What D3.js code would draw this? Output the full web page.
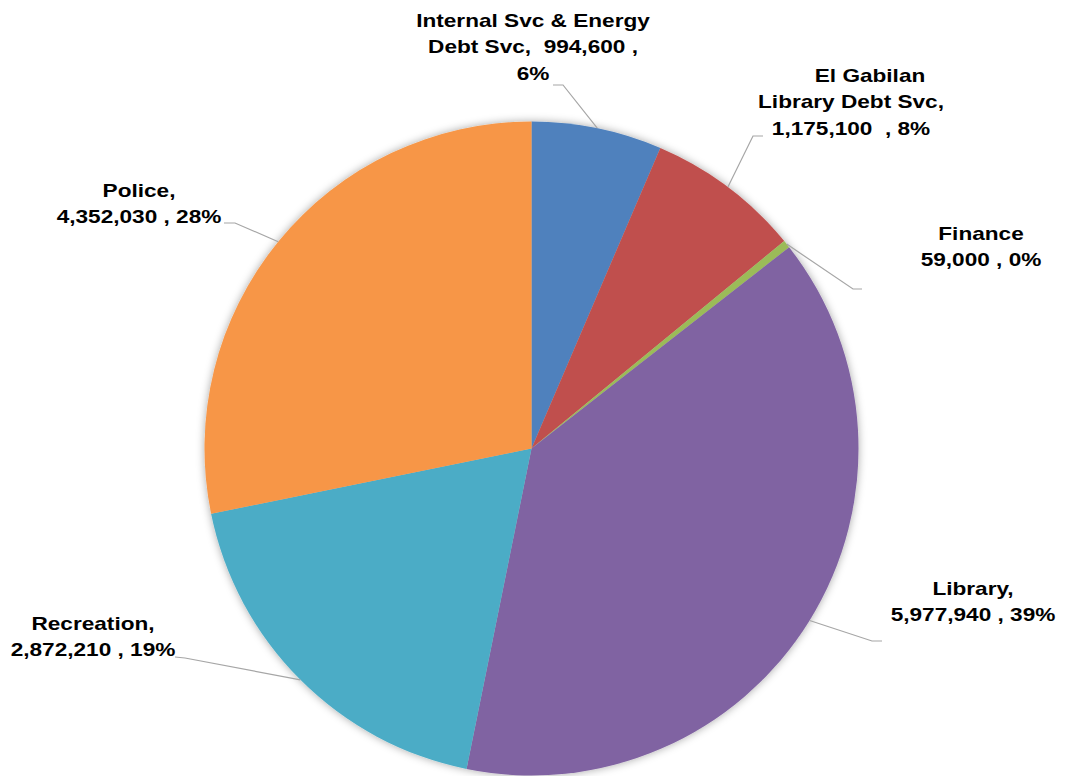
<!DOCTYPE html>
<html>
<head>
<meta charset="utf-8">
<script src="https://cdn.jsdelivr.net/npm/d3@7/dist/d3.min.js"></script>
<style>
  html, body { margin: 0; padding: 0; background: #fff; }
  text { font-family: "Liberation Sans", Arial, sans-serif; font-weight: bold; font-size: 19px; fill: #000; }
</style>
</head>
<body>
<div id="chart"></div>
<script>
// Data
const categories = ['Internal Svc & Energy Debt Svc', 'El Gabilan Library Debt Svc', 'Finance', 'Library', 'Recreation', 'Police'];
const values = [994600, 1175100, 59000, 5977940, 2872210, 4352030];
const labelLines = [
    ['Internal Svc & Energy', 'Debt Svc,  994,600 ,', '6%'],
    ['El Gabilan', 'Library Debt Svc,', '1,175,100  , 8%'],
    ['Finance', '59,000 , 0%'],
    ['Library,', '5,977,940 , 39%'],
    ['Recreation,', '2,872,210 , 19%'],
    ['Police,', '4,352,030 , 28%']
];
const colors = ['#4F81BD', '#C0504D', '#9BBB59', '#8064A2', '#4BACC6', '#F79646'];

// Layout for the data labels (text centre, first baseline, leader elbow and end)
const labelLayout = [
    { x: 533, y: 27, elbow: [563, 85], end: [553, 85], dx: [0, 0, 0] },
    { x: 851, y: 82, elbow: [753, 136], end: [763, 136], dx: [19, 0, 0] },
    { x: 981, y: 240, elbow: [853, 289], end: [862, 289], dx: [0, 0] },
    { x: 973, y: 595, elbow: [872, 641], end: [882, 641], dx: [0, 0] },
    { x: 93, y: 630, elbow: [185, 658], end: [175, 657], dx: [0, 0] },
    { x: 139, y: 197, elbow: [235, 223], end: [224, 223], dx: [0, 0] }
];

const WIDTH = 1065, HEIGHT = 776;
const CX = 531.5, CY = 448.5, R = 327;
const LINE_HEIGHT = 26.5;
const TEXT_STRETCH = 1.19; // the labels in the original are drawn a bit wide

const svg = d3.select('#chart').append('svg')
    .attr('width', WIDTH)
    .attr('height', HEIGHT);

const defs = svg.append('defs');
const shadow = defs.append('filter')
    .attr('id', 'shadow')
    .attr('x', '-10%').attr('y', '-10%')
    .attr('width', '120%').attr('height', '120%');
shadow.append('feDropShadow')
    .attr('dx', 0).attr('dy', 0)
    .attr('stdDeviation', 4)
    .attr('flood-color', '#000')
    .attr('flood-opacity', 0.35);

const pie = d3.pie().sort(null).value(d => d.value);
const arcs = pie(values.map((v, i) => ({ value: v, i })));

const arc = d3.arc().innerRadius(0).outerRadius(R);
const edge = d3.arc().innerRadius(R).outerRadius(R);

const g = svg.append('g').attr('transform', `translate(${CX},${CY})`);

g.append('g')
    .attr('filter', 'url(#shadow)')
    .selectAll('path')
    .data(arcs)
    .enter().append('path')
    .attr('d', arc)
    .attr('fill', d => colors[d.data.i]);

// Leader lines
const line = d3.line();
svg.append('g').selectAll('path')
    .data(arcs)
    .enter().append('path')
    .attr('d', d => {
        const c = edge.centroid(d);
        const lay = labelLayout[d.data.i];
        return line([[CX + c[0], CY + c[1]], lay.elbow, lay.end]);
    })
    .attr('fill', 'none')
    .attr('stroke', '#A6A6A6')
    .attr('stroke-width', 1.2);

// Labels
const labels = svg.append('g').selectAll('g')
    .data(arcs)
    .enter().append('g')
    .attr('transform', d => `translate(${labelLayout[d.data.i].x},0) scale(${TEXT_STRETCH},1)`)
    .append('text')
    .attr('text-anchor', 'middle');

labels.selectAll('tspan')
    .data(d => labelLines[d.data.i].map((t, k) => ({ t, k, lay: labelLayout[d.data.i] })))
    .enter().append('tspan')
    .attr('x', d => d.lay.dx[d.k] / TEXT_STRETCH)
    .attr('y', d => d.lay.y + d.k * LINE_HEIGHT)
    .style('white-space', 'pre')
    .text(d => d.t);
</script>
</body>
</html>
